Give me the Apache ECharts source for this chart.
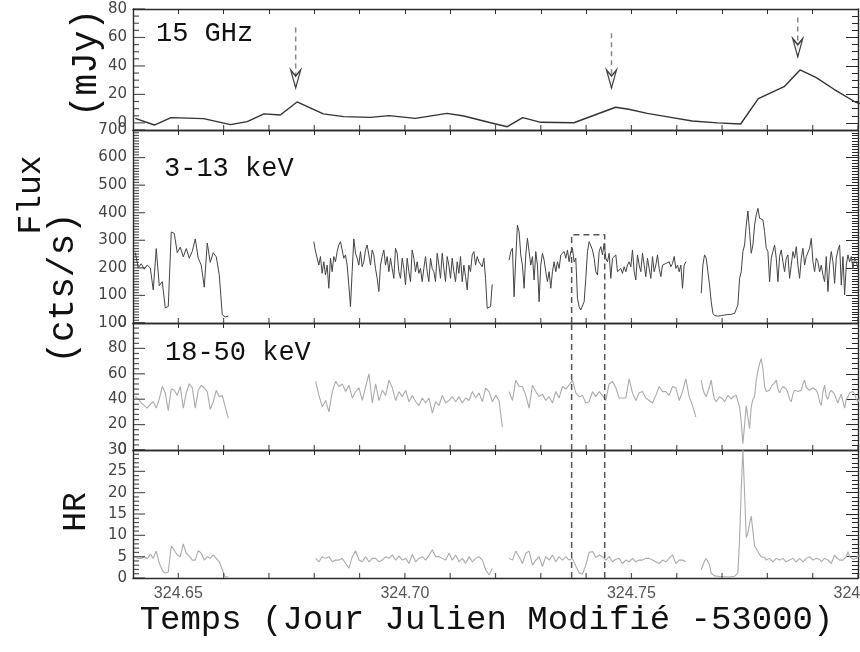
<!DOCTYPE html>
<html><head><meta charset="utf-8">
<script src="https://cdn.jsdelivr.net/npm/echarts@6/dist/echarts.min.js"></script>
<style>html,body{margin:0;padding:0;background:#fff}#c{width:860px;height:652px}</style>
</head><body><div id="c"></div>
<script>
// ---------- DATA ----------
const xTitle = 'Temps (Jour Julien Modifié -53000)';
const xLabelStep = 0.05;          // labelled ticks: 324.65, 324.70, 324.75, 324.80
const panelLabels = ['15 GHz', '3-13 keV', '18-50 keV'];
const yTitles = ['(mJy)', 'Flux', '(cts/s)', 'HR'];

// 15 GHz radio light curve (mJy)
const radioTimes = [324.6405, 324.6447, 324.6484, 324.6556, 324.6615, 324.6652, 324.6689, 324.6725, 324.6762, 324.6820, 324.6865, 324.6924, 324.6965, 324.7023, 324.7093, 324.7130, 324.7189, 324.7226, 324.7260, 324.7300, 324.7373, 324.7465, 324.7494, 324.7535, 324.7587, 324.7634, 324.7690, 324.7741, 324.7780, 324.7837, 324.7872, 324.7907, 324.7947, 324.7995, 324.8007];
const radioFlux = [3.2, -1.5, 3.7, 3.0, -1.2, 0.9, 6.3, 5.5, 14.7, 6.3, 4.4, 3.9, 5.1, 3.2, 6.7, 4.8, 0.1, -2.7, 3.7, 0.4, 0.1, 11.0, 9.6, 6.7, 3.9, 1.3, 0.0, -0.8, 17.0, 25.4, 37.2, 32.0, 23.6, 14.5, 13.3];

// flare arrows in the radio panel
const arrowTimes = [324.6759, 324.7456, 324.7867];
const arrowTops = [67, 63, 74];
const arrowTips = [24.5, 24.5, 46.5];

// dashed box
const boxTimes = [324.7368, 324.7441];
const boxTop = 320;

// X-ray segments: start time, time step, values
const segStarts = [324.6405, 324.6799, 324.7230, 324.7654];
const hardSteps = [0.000662, 0.000368, 0.000368, 0.000368];
const softStarts = [324.6405, 324.6803, 324.7230, 324.7654];
const softSteps = [0.000662, 0.000736, 0.000736, 0.000368];
const hrSteps = [0.000662, 0.000736, 0.000736, 0.000368];

const hardA = [255,200,215,195,210,200,120,270,135,150,55,60,330,325,255,275,240,270,235,260,305,235,210,130,290,220,255,240,175,30,22,25];
const hardB = [295,261,259,210,241,180,222,174,210,126,
  235,186,241,222,259,283,295,265,235,247,
  210,138,59,186,305,253,235,210,259,204,
  222,265,283,247,210,265,247,198,162,114,
  210,241,265,210,241,186,235,198,162,271,
  253,186,162,235,198,138,235,186,150,265,
  235,186,222,180,198,150,198,241,186,150,
  235,198,186,150,253,210,162,253,198,150,
  241,210,162,235,186,150,222,180,241,150,
  210,168,120,210,186,247,259,210,241,222,
  228,204,235,162,53,56,60,140];
const hardC = [228,259,271,95,235,355,331,247,210,126,
  247,307,259,210,241,156,259,210,77,210,
  253,228,186,150,186,126,186,222,186,222,
  198,247,241,259,235,265,222,259,271,222,
  235,90,59,47,47,77,162,259,295,289,
  265,235,186,174,259,277,247,289,235,222,
  253,162,235,241,247,186,180,198,180,204,
  186,210,222,204,265,186,156,247,210,186,
  253,210,168,235,198,162,241,186,210,247,
  198,168,210,210,216,210,222,204,216,241,
  198,210,186,210,126,210,222];
const hardD = [108,210,247,235,186,138,77,35,27,23,
  25,23,27,25,29,27,31,29,31,35,
  35,41,65,162,186,259,283,355,406,331,
  253,283,355,392,416,380,374,374,331,271,
  259,150,235,259,283,235,150,241,265,222,
  186,235,247,162,210,259,235,277,210,162,
  235,271,210,241,241,271,307,222,186,235,
  222,186,210,174,150,241,114,210,259,222,
  144,235,265,283,138,241,102,210,247,222,
  241,198,235,222,198,210,198];

const softA = [42,40,37,35,33,36,38,33,40,50,45,31,48,47,43,50,33,45,52,49,33,47,51,49,46,32,38,47,42,43,34,25];
const softB = [54,43,34,39,30,46,54,50,52,46,51,41,46,49,39,50,60,37,52,39,47,43,55,49,39,46,42,47,38,43,38,35,41,37,41,29,38,35,43,37,39,42,38,42,37,41,39,46,41,45,38,49,46,38,43,39,18];
const softC = [46,39,55,50,50,43,33,51,46,42,44,39,42,37,46,41,50,48,51,55,45,42,43,37,38,46,42,46,43,39,52,54,49,41,41,41,56,45,39,45,46,41,39,37,43,50,46,46,43,50,49,39,46,56,42,35,26];
const softD = [55,48,44,42,41,50,55,46,40,38,
  39,42,42,40,38,39,43,44,40,42,
  43,43,42,34,22,5,20,35,26,17,
  34,40,42,55,62,68,72,64,50,46,
  46,47,50,49,53,55,48,45,48,50,
  51,48,45,40,38,44,47,47,46,47,
  47,52,55,49,48,47,46,49,50,47,
  44,38,35,46,51,42,40,45,47,46,
  44,40,37,41,44,38,33,40,42,45,
  46,46,44,40,38,41,42];

const hrA = [4.8,4.6,4.6,5.0,4.5,5.6,4.6,6.3,3.5,1.8,1.1,1.4,7.5,6.5,5.4,5.0,8.0,5.8,5.2,4.2,4.2,6.4,5.8,4.2,5.0,4.6,5.4,4.6,3.8,2.0,0.2,0.3];
const hrB = [4.6,3.8,5.0,4.6,5.0,3.8,4.2,4.2,4.6,3.4,
  2.3,5.0,6.4,4.2,3.8,5.0,3.8,4.6,4.6,3.8,
  4.2,5.0,4.6,5.4,4.2,5.2,4.2,4.6,3.4,5.5,
  3.8,4.6,5.0,4.2,5.3,6.6,5.0,5.0,4.6,4.2,
  5.8,4.2,5.4,3.8,4.6,3.4,5.0,3.8,4.6,5.0,
  4.2,1.9,0.7,2.2];
const hrC = [4.6,4.2,6.3,5.0,3.4,5.8,6.3,3.0,4.2,5.0,
  2.7,5.0,4.2,5.4,3.8,5.0,4.2,5.0,4.2,4.6,
  2.8,1.2,0.9,3.0,6.0,6.2,4.8,5.4,5.0,4.2,
  5.0,3.8,4.4,4.6,3.4,4.2,3.8,4.6,3.8,4.2,
  4.2,4.6,4.6,4.2,3.8,3.4,4.2,3.8,4.6,5.4,
  3.4,4.2,4.2,3.8];
const hrD = [1.9,3.0,4.0,4.6,4.2,3.0,1.1,0.7,0.5,0.4,
  0.4,0.4,0.3,0.3,0.3,0.3,0.2,0.3,0.3,0.3,
  0.4,0.7,1.2,9.0,21,30,20,9.5,10.5,12.8,
  14.5,11,7.5,7.8,6.2,5.5,5.0,5.0,4.8,4.2,
  4.6,4.6,4.6,3.8,4.0,4.6,5.0,4.2,4.4,4.6,
  4.4,3.8,4.0,4.2,4.6,4.6,4.2,3.8,4.2,4.6,
  4.2,3.8,4.2,4.6,4.2,5.0,5.4,4.2,4.4,4.6,
  5.0,4.4,3.8,4.2,4.6,4.6,4.2,4.0,3.4,3.6,
  5.4,4.8,4.6,4.2,4.2,4.2,4.2,5.0,6.2,5.0,
  4.6,4.4,4.6,4.6,5.2,5.2,5.0];

// ---------- CHART ----------
const X_MIN = 324.64, X_MAX = 324.80, X_TICK = 0.01;
const GL = 133, GR = 2;
const panels = [
  {top: 9,   height: 121, min: -5, max: 80,  tickMin: 0, step: 20,  split: 4},
  {top: 130, height: 193, min: 0,  max: 700, tickMin: 0, step: 100, split: 10},
  {top: 323, height: 127, min: 0,  max: 100, tickMin: 0, step: 20,  split: 5},
  {top: 450, height: 128, min: 0,  max: 30,  tickMin: 0, step: 5,   split: 5}
];
const AX = '#2a2a2a';
const tickStyle = {color: AX, width: 1};
const lineStyleAx = {color: AX, width: 1.4};
const p0 = panels[0];
const radioTickRect = {top: p0.top, height: p0.height * p0.max / (p0.max - p0.min)};   // 0..80 part of the radio panel

function range(a, b, s) { const out = []; for (let k = Math.ceil(a / s - 1e-9); k * s <= b + 1e-9; k++) out.push(Math.round(k * s * 10000) / 10000); return out; }

const grids = [], xAxes = [], yAxes = [];
const xLabelFmt = v => (Math.abs(v / xLabelStep - Math.round(v / xLabelStep)) < 1e-6 ? v.toFixed(2) : '');
const noLabel = {show: false};
const hiddenX = gi => ({gridIndex: gi, type: 'value', min: X_MIN, max: X_MAX, show: false});
const yLabelStyle = {margin: 6, hideOverlap: false, showMinLabel: true, showMaxLabel: true,
  fontFamily: '"DejaVu Sans", sans-serif', fontSize: 15, color: '#444'};

panels.forEach((p, g) => {
  // grid g : data grid, frame lines + labels
  grids[g] = Object.assign({left: GL, right: GR, top: p.top, height: p.height}, g === 3 ? {outerBoundsMode: 'none'} : {});
  xAxes[g] = {gridIndex: g, type: 'value', min: X_MIN, max: X_MAX, interval: X_TICK, position: 'bottom',
    splitLine: {show: false}, axisLine: {show: true, onZero: false, lineStyle: lineStyleAx}, axisTick: {show: false},
    axisLabel: {show: g === 3, margin: 8, hideOverlap: false, showMinLabel: true, showMaxLabel: true, formatter: xLabelFmt,
      fontFamily: '"Liberation Sans", Arial, sans-serif', fontSize: 16, color: '#555'},
    name: g === 3 ? xTitle : '', nameLocation: 'middle', nameGap: 16,
    nameTextStyle: {fontFamily: '"Liberation Mono", monospace', fontSize: 34, color: '#111', padding: [0, 18, 0, 0]}};
  yAxes[g] = Object.assign({gridIndex: g, type: 'value', min: p.min, max: p.max, interval: g ? p.step : 5, position: 'left',
    splitLine: {show: false}, axisLine: {show: true, onZero: false, lineStyle: lineStyleAx}, axisTick: {show: false},
    axisLabel: Object.assign({show: g > 0}, yLabelStyle)});
  // top / right ticks (pointing inwards)
  const rectY = g === 0 ? radioTickRect : p;
  const tr = 4 + g;
  grids[tr] = {left: GL, right: GR, top: rectY.top, height: rectY.height};
  xAxes[tr] = {gridIndex: tr, type: 'value', min: X_MIN, max: X_MAX, interval: X_TICK, position: 'top',
    splitLine: {show: false}, axisLine: {show: true, onZero: false, lineStyle: lineStyleAx},
    axisTick: {show: true, inside: true, length: 5, lineStyle: tickStyle}, axisLabel: noLabel};
  yAxes[tr] = {gridIndex: tr, type: 'value', min: p.tickMin, max: p.max, interval: p.step, position: 'right',
    splitLine: {show: false}, axisLine: {show: g > 0, onZero: false, lineStyle: lineStyleAx},
    axisTick: {show: true, inside: true, length: 12, lineStyle: tickStyle},
    minorTick: {show: true, splitNumber: p.split, length: 6, lineStyle: tickStyle}, axisLabel: noLabel};
});
// radio panel: labels 0..80 and the full right frame line
grids[8] = {left: GL, right: GR, top: radioTickRect.top, height: radioTickRect.height};
xAxes[8] = hiddenX(8);
yAxes[8] = {gridIndex: 8, type: 'value', min: 0, max: p0.max, interval: p0.step, position: 'left',
  splitLine: {show: false}, axisLine: {show: false, onZero: false}, axisTick: {show: false},
  axisLabel: Object.assign({show: true}, yLabelStyle)};
grids[9] = {left: GL, right: GR, top: p0.top, height: p0.height};
xAxes[9] = hiddenX(9);
yAxes[9] = {gridIndex: 9, type: 'value', min: p0.min, max: p0.max, position: 'right',
  splitLine: {show: false}, axisLine: {show: true, onZero: false, lineStyle: lineStyleAx}, axisTick: {show: false}, axisLabel: noLabel};

function seg(t0, dt, vals) { return vals.map((v, i) => [t0 + i * dt, v]); }
function lineSeries(g, data, color, width, extra) {
  return Object.assign({type: 'line', xAxisIndex: g, yAxisIndex: g, data: data, showSymbol: false, symbol: 'none',
    lineStyle: {color: color, width: width}, silent: true, clip: true, z: 3}, extra || {});
}
// inward tick marks on the left and bottom frame, placed through the panel's own scales
function tickMarks(g, data, size, offset) {
  return {type: 'scatter', xAxisIndex: g, yAxisIndex: g, data: data, symbol: 'rect', symbolSize: size, symbolOffset: offset,
    itemStyle: {color: AX}, silent: true, clip: false, z: 6};
}
const dashed = {color: '#555', width: 1.5, type: [6, 4]};
const series = [];
series.push(lineSeries(0, radioTimes.map((t, i) => [t, radioFlux[i]]), '#333', 1.4));
arrowTimes.forEach((t, i) => {
  series.push(lineSeries(0, [[t, arrowTops[i]], [t, arrowTips[i]]], '#888', 1.5, {lineStyle: {color: '#888', width: 1.5, type: [5, 4]}}));
});
series.push({type: 'scatter', xAxisIndex: 0, yAxisIndex: 0, silent: true, z: 5,
  data: arrowTimes.map((t, i) => [t, arrowTips[i]]),
  symbol: 'path://M0,0 L5,6 L10,0 L5,18 Z', symbolSize: [10, 18], symbolOffset: [0, -9],
  itemStyle: {color: '#fff', borderColor: '#111', borderWidth: 1.5}});

[hardA, hardB, hardC, hardD].forEach((v, i) => series.push(lineSeries(1, seg(segStarts[i], hardSteps[i], v), '#444', 1)));
series.push(lineSeries(1, [[boxTimes[0], 0], [boxTimes[0], boxTop], [boxTimes[1], boxTop], [boxTimes[1], 0]], '#555', 1.5,
  {lineStyle: dashed, z: 4}));
[softA, softB, softC, softD].forEach((v, i) => series.push(lineSeries(2, seg(softStarts[i], softSteps[i], v), '#ababab', 1.1)));
[hrA, hrB, hrC, hrD].forEach((v, i) => series.push(lineSeries(3, seg(softStarts[i], hrSteps[i], v), '#ababab', 1.1)));
[2, 3].forEach(g => boxTimes.forEach(t => {
  series.push(lineSeries(g, [[t, panels[g].min], [t, panels[g].max]], '#555', 1.5, {lineStyle: dashed, z: 4}));
}));
// left-frame and bottom-frame ticks
const xTickVals = range(X_MIN + X_TICK, X_MAX, X_TICK);
panels.forEach((p, g) => {
  const majors = range(p.tickMin, p.max, p.step);
  const minors = range(p.tickMin, p.max, p.step / p.split).filter(v => majors.indexOf(v) < 0);
  series.push(tickMarks(g, majors.map(v => [X_MIN, v]), [12, 1.2], [6, 0]));
  series.push(tickMarks(g, minors.map(v => [X_MIN, v]), [6, 1.2], [3, 0]));
  series.push(tickMarks(g, xTickVals.map(t => [t, p.min]), [1.2, 5], [0, -2.5]));
});

const mono = '"Liberation Mono", "DejaVu Sans Mono", monospace';
function txt(text, x, y, size, rot, align) {
  return {type: 'text', x: x, y: y, rotation: rot || 0, silent: true, z: 10,
    style: {text: text, font: size + 'px ' + mono, fill: '#111', textAlign: align || 'center', textVerticalAlign: 'middle'}};
}
const graphic = [
  txt(panelLabels[0], 156, 34, 27, 0, 'left'),
  txt(panelLabels[1], 164, 169, 27, 0, 'left'),
  txt(panelLabels[2], 165, 353, 27, 0, 'left'),
  txt(yTitles[0], 86, 63, 36, Math.PI / 2),
  txt(yTitles[1], 31, 195, 33, Math.PI / 2),
  txt(yTitles[2], 63, 288, 36, Math.PI / 2),
  txt(yTitles[3], 76, 512, 33, Math.PI / 2)
];

const chart = echarts.init(document.getElementById('c'), null, {renderer: 'canvas'});
chart.setOption({animation: false, backgroundColor: '#fff', grid: grids, xAxis: xAxes, yAxis: yAxes, series: series, graphic: graphic});
</script></body></html>
